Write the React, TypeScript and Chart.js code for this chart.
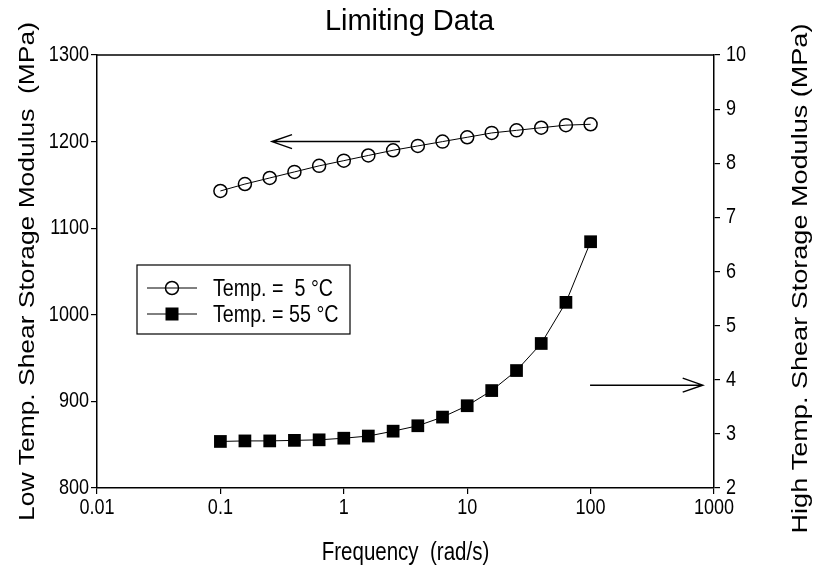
import React, { useEffect, useRef } from 'react';
import { Chart, registerables } from 'chart.js';

Chart.register(...registerables);

// ---- data ----
const frequency = [0.1, 0.158, 0.251, 0.398, 0.631, 1, 1.58, 2.51, 3.98, 6.31, 10, 15.8, 25.1, 39.8, 63.1, 100];
const lowTempModulus = [1143, 1151, 1158, 1165, 1172, 1178, 1184, 1190, 1195, 1200, 1205, 1210, 1213, 1216, 1219, 1220];
const highTempModulus = [2.86, 2.87, 2.87, 2.88, 2.89, 2.92, 2.96, 3.05, 3.15, 3.31, 3.52, 3.8, 4.17, 4.67, 5.43, 6.55];
const xTickValues = [0.01, 0.1, 1, 10, 100, 1000];
const seriesLabels = ['Temp. =  5 °C', 'Temp. = 55 °C'];
const chartTitle = 'Limiting Data';
const xTitle = 'Frequency  (rad/s)';
const leftTitle = 'Low Temp. Shear Storage Modulus  (MPa)';
const rightTitle = 'High Temp. Shear Storage Modulus (MPa)';
// arrows in data coordinates
const arrowFrom = [2.85, 99];
const arrowTo = [0.262, 810];
const arrowY = [1200, 3.9];
const arrowAxis = ['yLow', 'yHigh'];

const FONT = "'Liberation Sans', Arial, sans-serif";
const SQUEEZE = 0.82; // horizontal condensing of the reference's lettering

function condText(ctx: CanvasRenderingContext2D, text: string, x: number, y: number, size: number, align: CanvasTextAlign) {
  ctx.save();
  ctx.font = `${size}px ${FONT}`;
  ctx.textBaseline = 'middle';
  ctx.textAlign = align;
  ctx.fillStyle = '#000';
  ctx.translate(x, y);
  ctx.scale(SQUEEZE, 1);
  ctx.fillText(text, 0, 0);
  ctx.restore();
}

function vertText(ctx: CanvasRenderingContext2D, text: string, x: number, y: number, size: number, stretch: number) {
  ctx.save();
  ctx.font = `${size}px ${FONT}`;
  ctx.textAlign = 'center';
  ctx.textBaseline = 'middle';
  ctx.fillStyle = '#000';
  ctx.translate(x, y);
  ctx.rotate(-Math.PI / 2);
  ctx.scale(stretch, 1);
  ctx.fillText(text, 0, 0);
  ctx.restore();
}

const decorPlugin = {
  id: 'decor',
  afterDraw(chart: any) {
    const { ctx, chartArea: ca, scales } = chart;
    ctx.save();
    // frame top line
    ctx.strokeStyle = '#000';
    ctx.lineWidth = 1.5;
    ctx.beginPath();
    ctx.moveTo(ca.left, ca.top);
    ctx.lineTo(ca.right, ca.top);
    ctx.stroke();

    // tick labels (condensed lettering), positions from the library's scales
    const fmt = (v: number) => String(v);
    scales.x.ticks.forEach((t: any) => {
      condText(ctx, fmt(t.value), scales.x.getPixelForValue(t.value), ca.bottom + 20, 22, 'center');
    });
    scales.yLow.ticks.forEach((t: any) => {
      condText(ctx, fmt(t.value), ca.left - 8, scales.yLow.getPixelForValue(t.value), 22, 'right');
    });
    scales.yHigh.ticks.forEach((t: any) => {
      condText(ctx, fmt(t.value), ca.right + 12, scales.yHigh.getPixelForValue(t.value), 22, 'left');
    });
    // x axis title
    condText(ctx, xTitle, (ca.left + ca.right) / 2, ca.bottom + 65, 25, 'center');

    // arrows
    ctx.strokeStyle = '#000';
    ctx.lineWidth = 1.5;
    for (let i = 0; i < arrowFrom.length; i++) {
      const ys = scales[arrowAxis[i]];
      const x0 = scales.x.getPixelForValue(arrowFrom[i]);
      const x1 = scales.x.getPixelForValue(arrowTo[i]);
      const y = ys.getPixelForValue(arrowY[i]);
      const dir = x1 > x0 ? 1 : -1;
      ctx.beginPath();
      ctx.moveTo(x0, y);
      ctx.lineTo(x1, y);
      ctx.moveTo(x1 - dir * 20, y - 7);
      ctx.lineTo(x1, y);
      ctx.lineTo(x1 - dir * 20, y + 7);
      ctx.stroke();
    }

    // legend box
    const bx = ca.left + 40;
    const by = ca.top + 210;
    const bw = 213;
    const bh = 69;
    ctx.fillStyle = '#fff';
    ctx.fillRect(bx, by, bw, bh);
    ctx.lineWidth = 1.2;
    ctx.strokeRect(bx, by, bw, bh);
    const rows = [by + 23, by + 49];
    rows.forEach((ry, i) => {
      ctx.strokeStyle = '#000';
      ctx.lineWidth = 1;
      ctx.beginPath();
      ctx.moveTo(bx + 10, ry);
      ctx.lineTo(bx + 60, ry);
      ctx.stroke();
      if (i === 0) {
        ctx.lineWidth = 1.5;
        ctx.beginPath();
        ctx.arc(bx + 35, ry, 6.5, 0, Math.PI * 2);
        ctx.stroke();
      } else {
        ctx.fillStyle = '#000';
        ctx.fillRect(bx + 35 - 6.5, ry - 6.5, 13, 13);
      }
      condText(ctx, seriesLabels[i], bx + 76, ry + 1, 24, 'left');
    });

    // vertical axis titles
    const cy = (ca.top + ca.bottom) / 2;
    vertText(ctx, leftTitle, 28, cy, 22, 1.2);
    vertText(ctx, rightTitle, chart.width - 18, cy + 7, 22, 1.23);

    ctx.restore();
  },
};

export default function App() {
  const ref = useRef<HTMLCanvasElement | null>(null);
  useEffect(() => {
    if (!ref.current) return;
    const axisLine = { display: true, color: '#000', width: 1.5 };
    const tickGrid = { display: true, drawOnChartArea: false, drawTicks: true, tickLength: 6, color: '#000', lineWidth: 1.2 };
    const chart = new Chart(ref.current, {
      type: 'line',
      data: {
        datasets: [
          {
            label: seriesLabels[0],
            data: frequency.map((f, i) => ({ x: f, y: lowTempModulus[i] })),
            yAxisID: 'yLow',
            borderColor: '#000',
            borderWidth: 1,
            pointStyle: 'circle',
            pointRadius: 6.5,
            pointBorderWidth: 1.5,
            pointBorderColor: '#000',
            pointBackgroundColor: 'rgba(0,0,0,0)',
            tension: 0,
          },
          {
            label: seriesLabels[1],
            data: frequency.map((f, i) => ({ x: f, y: highTempModulus[i] })),
            yAxisID: 'yHigh',
            borderColor: '#000',
            borderWidth: 1,
            pointStyle: 'rect',
            pointRadius: 9,
            pointBorderWidth: 0,
            pointBackgroundColor: '#000',
            tension: 0,
          },
        ],
      },
      options: {
        responsive: false,
        animation: false,
        layout: { padding: 0 },
        plugins: {
          legend: { display: false },
          tooltip: { enabled: false },
          title: {
            display: true,
            text: chartTitle,
            color: '#000',
            font: { family: FONT, size: 29, weight: 'normal', lineHeight: 1.2 },
            padding: { top: 5, bottom: 15.2 },
          },
        },
        scales: {
          x: {
            type: 'logarithmic',
            position: 'bottom',
            min: 0.01,
            max: 1000,
            border: axisLine,
            grid: tickGrid,
            afterBuildTicks: (scale: any) => {
              scale.ticks = xTickValues.map((v) => ({ value: v }));
            },
            afterFit: (scale: any) => {
              scale.height = 90;
            },
            ticks: { display: false, autoSkip: false },
          },
          yLow: {
            type: 'linear',
            position: 'left',
            min: 800,
            max: 1300,
            border: axisLine,
            grid: tickGrid,
            afterFit: (scale: any) => {
              scale.width = 97;
            },
            ticks: { display: false, stepSize: 100 },
          },
          yHigh: {
            type: 'linear',
            position: 'right',
            min: 2,
            max: 10,
            border: axisLine,
            grid: tickGrid,
            afterFit: (scale: any) => {
              scale.width = 105;
            },
            ticks: { display: false, stepSize: 1 },
          },
        },
      },
      plugins: [decorPlugin],
    } as any);
    return () => chart.destroy();
  }, []);
  return (
    <div style={{ position: 'absolute', left: 0, top: 0, width: 819, height: 578, background: '#fff' }}>
      <canvas ref={ref} width={819} height={578} />
    </div>
  );
}
